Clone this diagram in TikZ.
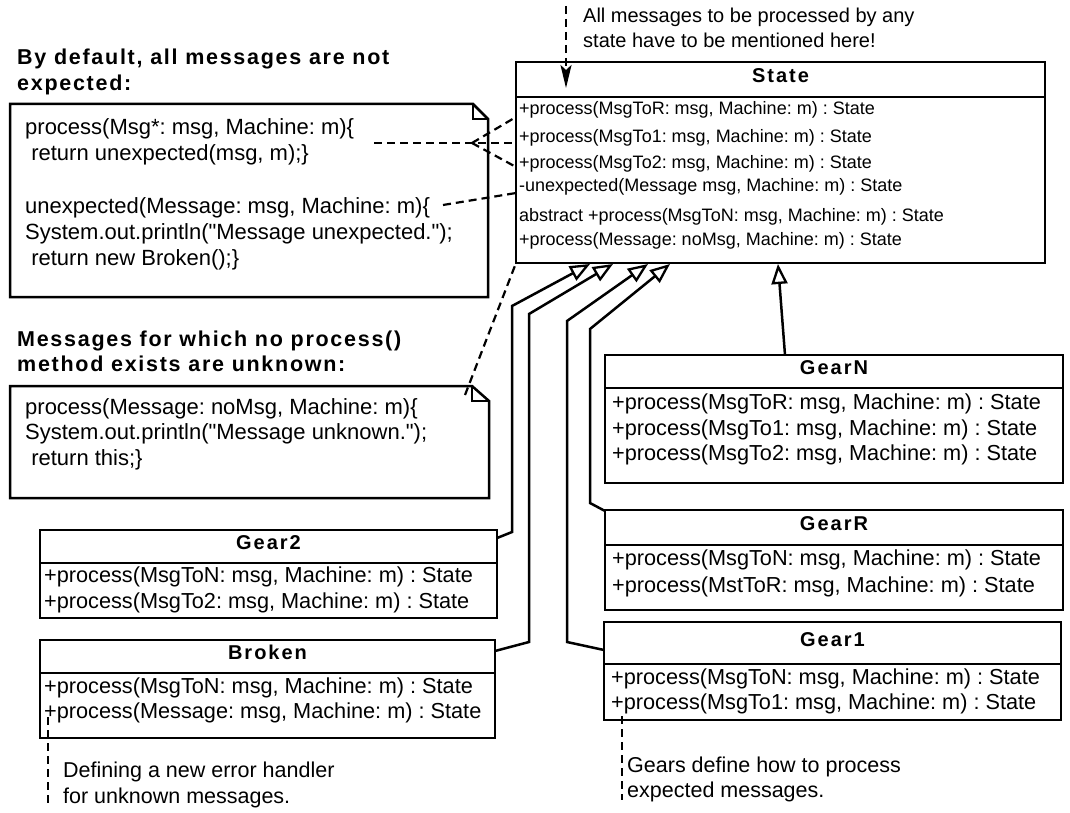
\documentclass[tikz,border=0pt]{standalone}
\usepackage{fontspec}
\setmainfont{Liberation Sans}[Ligatures=TeXOff]
\newfontfamily\hdfont{Liberation Sans}[Ligatures=TeXOff, LetterSpace=8]
\newfontfamily\ttlfont{Liberation Sans}[Ligatures=TeXOff, LetterSpace=10]
\usetikzlibrary{arrows.meta,fit}

\tikzset{
  box/.style={draw, line width=2.5pt, inner sep=0pt},
  rowsm/.style={anchor=west, inner sep=0pt, text height=0.8em, text depth=0.2em,
    font=\fontsize{18}{20}\selectfont},
  rowlg/.style={anchor=west, inner sep=0pt, text height=0.8em, text depth=0.2em,
    font=\fontsize{21.7}{24}\selectfont},
  txt/.style={anchor=west, inner sep=0pt, text height=0.8em, text depth=0.2em,
    font=\fontsize{22}{25}\selectfont},
  remark/.style={anchor=west, inner sep=0pt, text height=0.8em, text depth=0.2em,
    font=\fontsize{21.5}{24}\selectfont},
  toptxt/.style={anchor=west, inner sep=0pt, text height=0.8em, text depth=0.2em,
    font=\fontsize{20}{22}\selectfont},
  hd/.style={anchor=west, inner sep=0pt, text height=0.8em, text depth=0.2em,
    font=\hdfont\bfseries\fontsize{21.5}{24}\selectfont},
  ttl/.style={inner sep=0pt, text height=0.8em, text depth=0.2em,
    font=\ttlfont\bfseries\fontsize{20}{22}\selectfont},
  sep/.style={line width=2.5pt},
  notebody/.style={draw, line width=2.5pt, line join=miter},
  dline/.style={line width=2.2pt, dash pattern=on 8pt off 5pt},
  inh/.style={line width=2.5pt, line join=miter,
    -{Triangle[open, length=20pt, width=16pt, line width=2.3pt]}},
}

% class box: name, left, top, right, bottom, separator y, title
\newcommand\umlbox[7]{%
  \coordinate (#1-nw) at (#2,#3);
  \coordinate (#1-se) at (#4,#5);
  \node[box, fit=(#1-nw)(#1-se)] (#1) {};
  \draw[sep] (#2,#6) -- (#4,#6);
  \node[ttl] (#1-title) at ({(#2+#4)/2},{(#3+#6)/2}) {#7};
}

\begin{document}
\frenchspacing
\begin{tikzpicture}[x=1pt, y=-1pt]
\useasboundingbox (0,0) rectangle (1070,813);

% ---------- State ----------
\umlbox{state}{516}{62}{1045}{263}{97}{State}
\node[rowsm] (s1) at (519,112) {+process(MsgToR: msg, Machine: m) : State};
\node[rowsm] (s2) at (519,140) {+process(MsgTo1: msg, Machine: m) : State};
\node[rowsm] (s3) at (519,165) {+process(MsgTo2: msg, Machine: m) : State};
\node[rowsm] (s4) at (519,189) {-unexpected(Message msg, Machine: m) : State};
\node[rowsm] (s5) at (519,218) {abstract +process(MsgToN: msg, Machine: m) : State};
\node[rowsm] (s6) at (519,242) {+process(Message: noMsg, Machine: m) : State};

% ---------- GearN ----------
\umlbox{gearN}{605}{355}{1063}{483}{388}{GearN}
\node[rowlg] (n1) at (612,406) {+process(MsgToR: msg, Machine: m) : State};
\node[rowlg] (n2) at (612,432) {+process(MsgTo1: msg, Machine: m) : State};
\node[rowlg] (n3) at (612,457) {+process(MsgTo2: msg, Machine: m) : State};

% ---------- GearR ----------
\umlbox{gearR}{605}{510}{1063}{610}{545}{GearR}
\node[rowlg] (r1) at (612,562) {+process(MsgToN: msg, Machine: m) : State};
\node[rowlg] (r2) at (612,589) {+process(MstToR: msg, Machine: m) : State};

% ---------- Gear1 ----------
\umlbox{gear1}{604}{622}{1061}{720}{664}{Gear1}
\node[rowlg] (o1) at (611,681) {+process(MsgToN: msg, Machine: m) : State};
\node[rowlg] (o2) at (611,706) {+process(MsgTo1: msg, Machine: m) : State};

% ---------- Gear2 ----------
\umlbox{gear2}{40}{530}{497}{618}{563}{Gear2}
\node[rowlg] (t1) at (44,579) {+process(MsgToN: msg, Machine: m) : State};
\node[rowlg] (t2) at (44,605) {+process(MsgTo2: msg, Machine: m) : State};

% ---------- Broken ----------
\umlbox{broken}{40}{640}{495}{738}{673}{Broken}
\node[rowlg] (b1) at (44,690) {+process(MsgToN: msg, Machine: m) : State};
\node[rowlg] (b2) at (44,715) {+process(Message: msg, Machine: m) : State};

% ---------- note: unexpected messages ----------
\node[hd] (h1a) at (17,62) {By default, all messages are not};
\node[hd] (h1b) at (17,88) {expected:};
\draw[notebody] (10,104) -- (473,104) -- (488,119) -- (488,297) -- (10,297) -- cycle;
\draw[line width=2.2pt] (473,104) -- (473,119) -- (488,119);
\node[txt] (u1) at (25,132) {process(Msg*: msg, Machine: m)\{};
\node[txt] (u2) at (25,158) {\ return unexpected(msg, m);\}};
\node[txt] (u3) at (25,210) {unexpected(Message: msg, Machine: m)\{};
\node[txt] (u4) at (25,236) {System.out.println("Message unexpected.");};
\node[txt] (u5) at (25,262) {\ return new Broken();\}};

% ---------- note: unknown messages ----------
\node[hd] (h2a) at (17,343) {Messages for which no process()};
\node[hd] (h2b) at (17,368) {method exists are unknown:};
\draw[notebody] (10,386) -- (472,386) -- (489,401) -- (489,498) -- (10,498) -- cycle;
\draw[line width=2.2pt] (472,386) -- (472,401) -- (489,401);
\node[txt] (k1) at (25,411) {process(Message: noMsg, Machine: m)\{};
\node[txt] (k2) at (25,436) {System.out.println("Message unknown.");};
\node[txt] (k3) at (25,462) {\ return this;\}};

% ---------- free texts ----------
\node[toptxt] (top1) at (583,20) {All messages to be processed by any};
\node[toptxt] (top2) at (583,45) {state have to be mentioned here!};
\node[remark] (bl1) at (63,774) {Defining a new error handler};
\node[remark] (bl2) at (63,800) {for unknown messages.};
\node[remark] (br1) at (627,769) {Gears define how to process};
\node[remark] (br2) at (627,794) {expected messages.};

% ---------- anchor points of the connectors ----------
\coordinate (topstart) at (566,6);
\coordinate (toptip) at (566,88);
\coordinate (u1end) at (374,143);
\coordinate (u1fan) at (472,143);
\coordinate (stA) at (516,117);
\coordinate (stB) at (516,143);
\coordinate (stC) at (516,167);
\coordinate (u3end) at (443,205);
\coordinate (stD) at (516,193);
\coordinate (k1end) at (465,395);
\coordinate (stE) at (516,263);
\coordinate (blstart) at (48,717);
\coordinate (blend) at (48,806);
\coordinate (brstart) at (622,716);
\coordinate (brend) at (622,800);

\coordinate (g2out) at (497,538);
\coordinate (brout) at (495,651);
\coordinate (g1out) at (604,650);
\coordinate (grout) at (605,511);
\coordinate (gnout) at (785,355);
\coordinate (inA) at (590,264);
\coordinate (inB) at (613,264);
\coordinate (inC) at (648,264);
\coordinate (inD) at (670,264);
\coordinate (inN) at (778,264);

% ---------- note links ----------
\draw[dline, -{Stealth[length=23pt, width=11pt, inset=5pt]}] (topstart) -- (toptip);
\draw[dline] (u1end) -- (stB);
\draw[dline] (u1fan) -- (stA);
\draw[dline] (u1fan) -- (stC);
\draw[dline] (u3end) -- (stD);
\draw[dline] (k1end) -- (stE);
\draw[dline] (blstart) -- (blend);
\draw[dline] (brstart) -- (brend);

% ---------- generalisations ----------
\draw[inh] (g2out) -- (512,532) -- (512,306) -- (inA);
\draw[inh] (brout) -- (529,642) -- (529,314) -- (inB);
\draw[inh] (g1out) -- (567,642) -- (567,321) -- (inC);
\draw[inh] (grout) -- (590,503) -- (590,329) -- (inD);
\draw[inh] (gnout) -- (inN);

\end{tikzpicture}
\end{document}
